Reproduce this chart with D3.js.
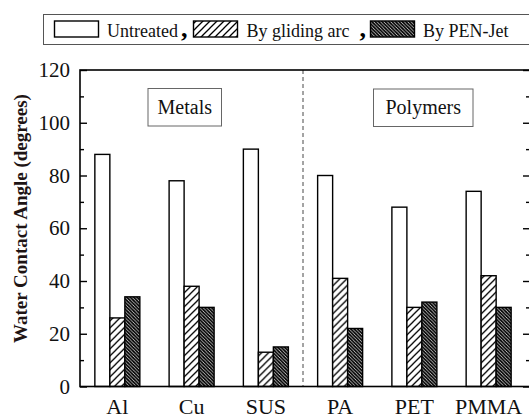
<!DOCTYPE html>
<html>
<head>
  <meta charset="UTF-8">
  <style>
    body { margin: 0; background: #fff; }
    svg { display: block; }
    svg text { font-family: "Liberation Serif", Tinos, "Times New Roman", Times, "DejaVu Serif", serif !important; }
  </style>
</head>
<body>
<div id="my_dataviz"></div>
<script src="https://d3js.org/d3.v7.min.js"></script>
<script>

// data
var categories = ["Al", "Cu", "SUS", "PA", "PET", "PMMA"];
var seriesNames = ["Untreated", "By gliding arc", "By PEN-Jet"];
var untreated = [88, 78, 90, 80, 68, 74];
var glidingArc = [26, 38, 13, 41, 30, 42];
var penJet = [34, 30, 15, 22, 32, 30];
var yTicks = [0, 20, 40, 60, 80, 100, 120];
var yMinorTicks = [10, 30, 50, 70, 90, 110];

var seriesValues = [untreated, glidingArc, penJet];
var fills = ["#fff", "url(#hatch)", "url(#dense)"];

var W = 529, H = 419;
var plot = {left: 80, top: 70, right: 530, bottom: 386.5};
var serif = "'Liberation Serif', Tinos, 'Times New Roman', Times, serif";

var svg = d3.select("#my_dataviz")
  .append("svg")
    .attr("width", W)
    .attr("height", H)
    .attr("font-family", serif);

// patterns
var defs = svg.append("defs");
var hatch = defs.append("pattern")
    .attr("id", "hatch")
    .attr("patternUnits", "userSpaceOnUse")
    .attr("width", 7).attr("height", 7);
hatch.append("rect").attr("width", 7).attr("height", 7).attr("fill", "#fff");
hatch.append("path")
    .attr("d", "M-1,8 L8,-1 M-4.5,4.5 L4.5,-4.5 M2.5,11.5 L11.5,2.5")
    .attr("stroke", "#000").attr("stroke-width", 1.3);

var dense = defs.append("pattern")
    .attr("id", "dense")
    .attr("patternUnits", "userSpaceOnUse")
    .attr("width", 3.4).attr("height", 3.4);
dense.append("rect").attr("width", 3.4).attr("height", 3.4).attr("fill", "#fff");
dense.append("path")
    .attr("d", "M-1,-1 L4.4,4.4 M-4.4,-1 L1,4.4 M2.4,-1 L7.8,4.4")
    .attr("stroke", "#000").attr("stroke-width", 1.8);

// scales
var x = d3.scaleBand()
    .domain(categories)
    .range([plot.left, 526])
    .paddingInner(0.394)
    .paddingOuter(0.2);

var xSub = d3.scaleBand()
    .domain(seriesNames)
    .range([0, x.bandwidth()]);

var y = d3.scaleLinear()
    .domain([0, 120])
    .range([plot.bottom, plot.top]);

// bars
var rows = categories.map(function(c, i) {
  return {cat: c, vals: seriesNames.map(function(s, j) { return {s: s, j: j, v: seriesValues[j][i]}; })};
});

var groups = svg.append("g").selectAll("g")
  .data(rows)
  .enter().append("g")
    .attr("transform", function(d) { return "translate(" + x(d.cat) + ",0)"; });

groups.selectAll("rect")
  .data(function(d) { return d.vals; })
  .enter().append("rect")
    .attr("x", function(d) { return xSub(d.s); })
    .attr("y", function(d) { return y(d.v); })
    .attr("width", xSub.bandwidth())
    .attr("height", function(d) { return y(0) - y(d.v); })
    .attr("fill", function(d) { return fills[d.j]; })
    .attr("stroke", "#000")
    .attr("stroke-width", 1.4);

// dashed separator between metals and polymers
var sepX = (x("SUS") + x.bandwidth() + x("PA")) / 2;
svg.append("line")
    .attr("x1", sepX).attr("x2", sepX)
    .attr("y1", plot.top).attr("y2", plot.bottom)
    .attr("stroke", "#333")
    .attr("stroke-width", 0.9)
    .attr("stroke-dasharray", "4,3");

// axes
function styleAxis(g) {
  g.attr("font-family", serif);
  g.select(".domain").remove();
  g.selectAll("line").attr("stroke", "#000").attr("stroke-width", 1.4);
}

var yAxis = svg.append("g")
    .attr("transform", "translate(" + plot.left + ",0)")
    .call(d3.axisLeft(y).tickValues(yTicks).tickSize(-7).tickPadding(10).tickFormat(d3.format("d")))
    .call(styleAxis);
yAxis.selectAll("text")
    .attr("font-size", "21px")
    .attr("fill", "#111");

svg.append("g")
    .attr("transform", "translate(" + plot.left + ",0)")
    .call(d3.axisLeft(y).tickValues(yMinorTicks).tickSize(-4).tickFormat(""))
    .call(styleAxis);

svg.append("g")
    .attr("transform", "translate(" + plot.right + ",0)")
    .call(d3.axisRight(y).tickValues(yTicks).tickSize(-7).tickFormat(""))
    .call(styleAxis);

svg.append("g")
    .attr("transform", "translate(" + plot.right + ",0)")
    .call(d3.axisRight(y).tickValues(yMinorTicks).tickSize(-4).tickFormat(""))
    .call(styleAxis);

// x labels
svg.append("g").selectAll("text")
  .data(categories)
  .enter().append("text")
    .attr("x", function(d) { return x(d) + x.bandwidth() / 2; })
    .attr("y", 414)
    .attr("text-anchor", "middle")
    .attr("font-size", "22px")
    .attr("fill", "#111")
    .text(function(d) { return d; });

// frame
svg.append("rect")
    .attr("x", plot.left).attr("y", plot.top)
    .attr("width", plot.right - plot.left)
    .attr("height", plot.bottom - plot.top)
    .attr("fill", "none")
    .attr("stroke", "#000")
    .attr("stroke-width", 1.6);

// y title
svg.append("text")
    .attr("transform", "translate(27," + ((92 + 345) / 2) + ") rotate(-90)")
    .attr("text-anchor", "middle")
    .attr("font-size", "19px")
    .attr("font-weight", "bold")
    .attr("fill", "#1e1414")
    .text("Water Contact Angle (degrees)");

// group boxes
var boxes = [
  {label: "Metals", x: 148, y: 88.5, w: 73.5, h: 37.5},
  {label: "Polymers", x: 373.5, y: 89, w: 99.5, h: 37.5}
];
boxes.forEach(function(b) {
  svg.append("rect")
      .attr("x", b.x).attr("y", b.y)
      .attr("width", b.w).attr("height", b.h)
      .attr("fill", "#fff")
      .attr("stroke", "#666")
      .attr("stroke-width", 1);
  svg.append("text")
      .attr("x", b.x + b.w / 2)
      .attr("y", b.y + 25)
      .attr("text-anchor", "middle")
      .attr("font-size", "20px")
      .attr("fill", "#111")
      .text(b.label);
});

// legend
svg.append("rect")
    .attr("x", 43.5).attr("y", 14.5)
    .attr("width", 520).attr("height", 30)
    .attr("fill", "#fff")
    .attr("stroke", "#555")
    .attr("stroke-width", 1);

var legendItems = [
  {sw: 54.5, tx: 107, comma: 181},
  {sw: 193.5, tx: 246.5, comma: 359.5},
  {sw: 370.5, tx: 423, comma: null}
];
legendItems.forEach(function(it, i) {
  svg.append("rect")
      .attr("x", it.sw).attr("y", 21)
      .attr("width", 44).attr("height", 16)
      .attr("fill", fills[i])
      .attr("stroke", "#000")
      .attr("stroke-width", 1.4);
  svg.append("text")
      .attr("x", it.tx).attr("y", 37)
      .attr("font-size", "18px")
      .attr("fill", "#111")
      .text(seriesNames[i]);
  if (it.comma !== null) {
    svg.append("text")
        .attr("x", it.comma).attr("y", 37)
        .attr("font-size", "26px")
        .attr("font-weight", "bold")
        .attr("fill", "#000")
        .text(",");
  }
});

</script>
</body>
</html>
